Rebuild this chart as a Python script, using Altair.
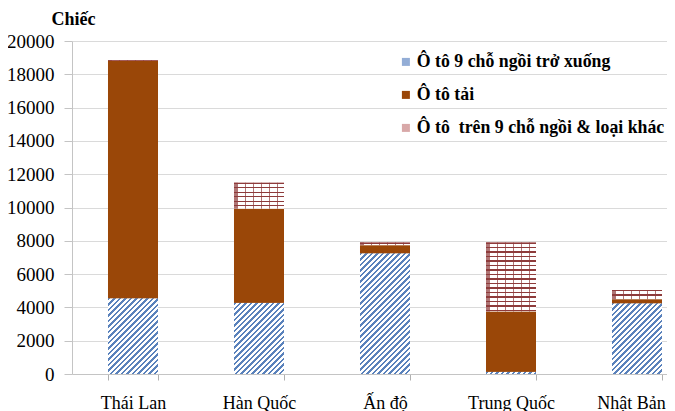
import math
import altair as alt
import pandas as pd

countries = ["Thái Lan", "Hàn Quốc", "Ấn độ", "Trung Quốc", "Nhật Bản"]
series = ["Ô tô 9 chỗ ngồi trở xuống", "Ô tô tải", "Ô tô\u00a0 trên 9 chỗ ngồi & loại khác"]
cars_small = [4550, 4280, 7250, 140, 4250]
trucks = [14250, 5640, 480, 3620, 240]
others = [40, 1570, 170, 4140, 560]
y_ticks = list(range(0, 20001, 2000))

rows = []
for ci, c in enumerate(countries):
    for si, vals in enumerate([cars_small, trucks, others]):
        rows.append({"country": c, "series": series[si], "value": vals[ci], "ci": ci, "si": si})
df = pd.DataFrame(rows)

# layout
W, H = 595, 333
YMAX = 20000
PI, PO, AL = 0.6032, 0.1627, 0.878
step = W / (len(countries) - PI + 2 * PO)
BW = step * (1 - PI)
PX = H / YMAX

FONT = "'Liberation Serif', 'Times New Roman', 'DejaVu Serif', serif"
BLUE = "#5a82bc"
BROWN = "#9a4708"
BRICK = "#8e3b3b"


def stripe_stops(total, period, frac, c_on, c_off, phase=0.0):
    stops = []
    k = 0
    while k * period < total + period:
        a = (k * period + phase) / total
        b = (k * period + phase + period * frac) / total
        c = ((k + 1) * period + phase) / total
        for off, col in ((a, c_on), (b, c_on), (b, c_off), (c, c_off)):
            off = max(0.0, min(1.0, off))
            stops.append({"offset": round(off, 5), "color": col})
        k += 1
    return stops


def diag_gradient(h):
    w = BW
    kk = (w + h) / (w * w + h * h)
    return {
        "gradient": "linear",
        "x1": 0, "y1": 0, "x2": round(w * kk, 6), "y2": round(h * kk, 6),
        "stops": stripe_stops(w + h, 5.5, 0.45, BLUE, "#ffffff"),
    }


def brick_h_gradient(h):
    h = max(h, 0.5)
    return {
        "gradient": "linear",
        "x1": 0, "y1": 0, "x2": 0, "y2": 1,
        "stops": stripe_stops(h, 4.5, 0.28, BRICK, "#ffffff"),
    }


def brick_v_gradient():
    return {
        "gradient": "linear",
        "x1": 0, "y1": 0, "x2": 1, "y2": 0,
        "stops": stripe_stops(BW, 8.0, 0.12, "rgba(142,59,59,0.7)", "rgba(255,255,255,0)", phase=3),
    }


cond_main = []
cond_vert = []
for ci in range(len(countries)):
    cond_main.append({"test": f"datum.si === 0 && datum.ci === {ci}",
                      "value": diag_gradient(cars_small[ci] * PX)})
    cond_main.append({"test": f"datum.si === 2 && datum.ci === {ci}",
                      "value": brick_h_gradient(others[ci] * PX)})
    cond_vert.append({"test": f"datum.si === 2 && datum.ci === {ci}",
                      "value": brick_v_gradient()})

x_enc = alt.X(
    "country:N",
    sort=countries,
    scale=alt.Scale(paddingInner=PI, paddingOuter=PO, align=AL),
    axis=alt.Axis(
        title=None, labelAngle=0, tickBand="extent", tickSize=6, grid=False,
        domainColor="#c4c4c4", tickColor="#b0b0b0",
        labelFont=FONT, labelFontSize=18, labelColor="#000000",
        labelPadding=28, labelBaseline="alphabetic",
        labelOffset={"condition": {"test": f"datum.value === '{countries[-1]}'", "value": -6}, "value": 0},
    ),
)
y_enc = alt.Y(
    "value:Q",
    stack="zero",
    scale=alt.Scale(domain=[0, YMAX], nice=False),
    axis=alt.Axis(
        values=y_ticks, format="d", tickSize=8, labelPadding=10,
        gridColor="#dadada", domainColor="#c4c4c4", tickColor="#c4c4c4",
        labelFont=FONT, labelFontSize=19, labelColor="#000000",
        title="Chiếc", titleAngle=0, titleX=1, titleY=-17, titleAlign="center",
        titleBaseline="alphabetic", titleFont=FONT, titleFontSize=18,
        titleFontWeight="bold", titleColor="#000000",
    ),
)
order_enc = alt.Order("si:Q", sort="ascending")

base = alt.Chart(df).encode(x=x_enc, y=y_enc, order=order_enc)

legend_layer = base.mark_bar().encode(
    color=alt.Color(
        "series:N",
        scale=alt.Scale(domain=series, range=["#93add6", BROWN, "#d8a8a8"]),
        legend=alt.Legend(
            title=None, orient="none", legendX=325, legendY=12,
            symbolType="square", symbolSize=64, symbolStrokeWidth=0,
            labelFont=FONT, labelFontSize=17.8, labelFontWeight="bold",
            labelColor="#000000", rowPadding=14, labelOffset=2, labelLimit=400,
        ),
    )
)
pattern_layer = base.mark_bar().encode(fill=alt.FillValue(BROWN, condition=cond_main))
vert_layer = base.mark_bar().encode(fill=alt.FillValue("transparent", condition=cond_vert))

chart = (
    alt.layer(legend_layer, pattern_layer, vert_layer)
    .properties(
        width=W, height=H,
        autosize=alt.AutoSizeParams(type="none"),
        padding={"left": 64, "top": 33, "right": 0, "bottom": 40},
        background="#ffffff",
    )
    .configure_view(stroke=None)
)

chart.save("out.html", embed_options={"renderer": "svg", "actions": False})
